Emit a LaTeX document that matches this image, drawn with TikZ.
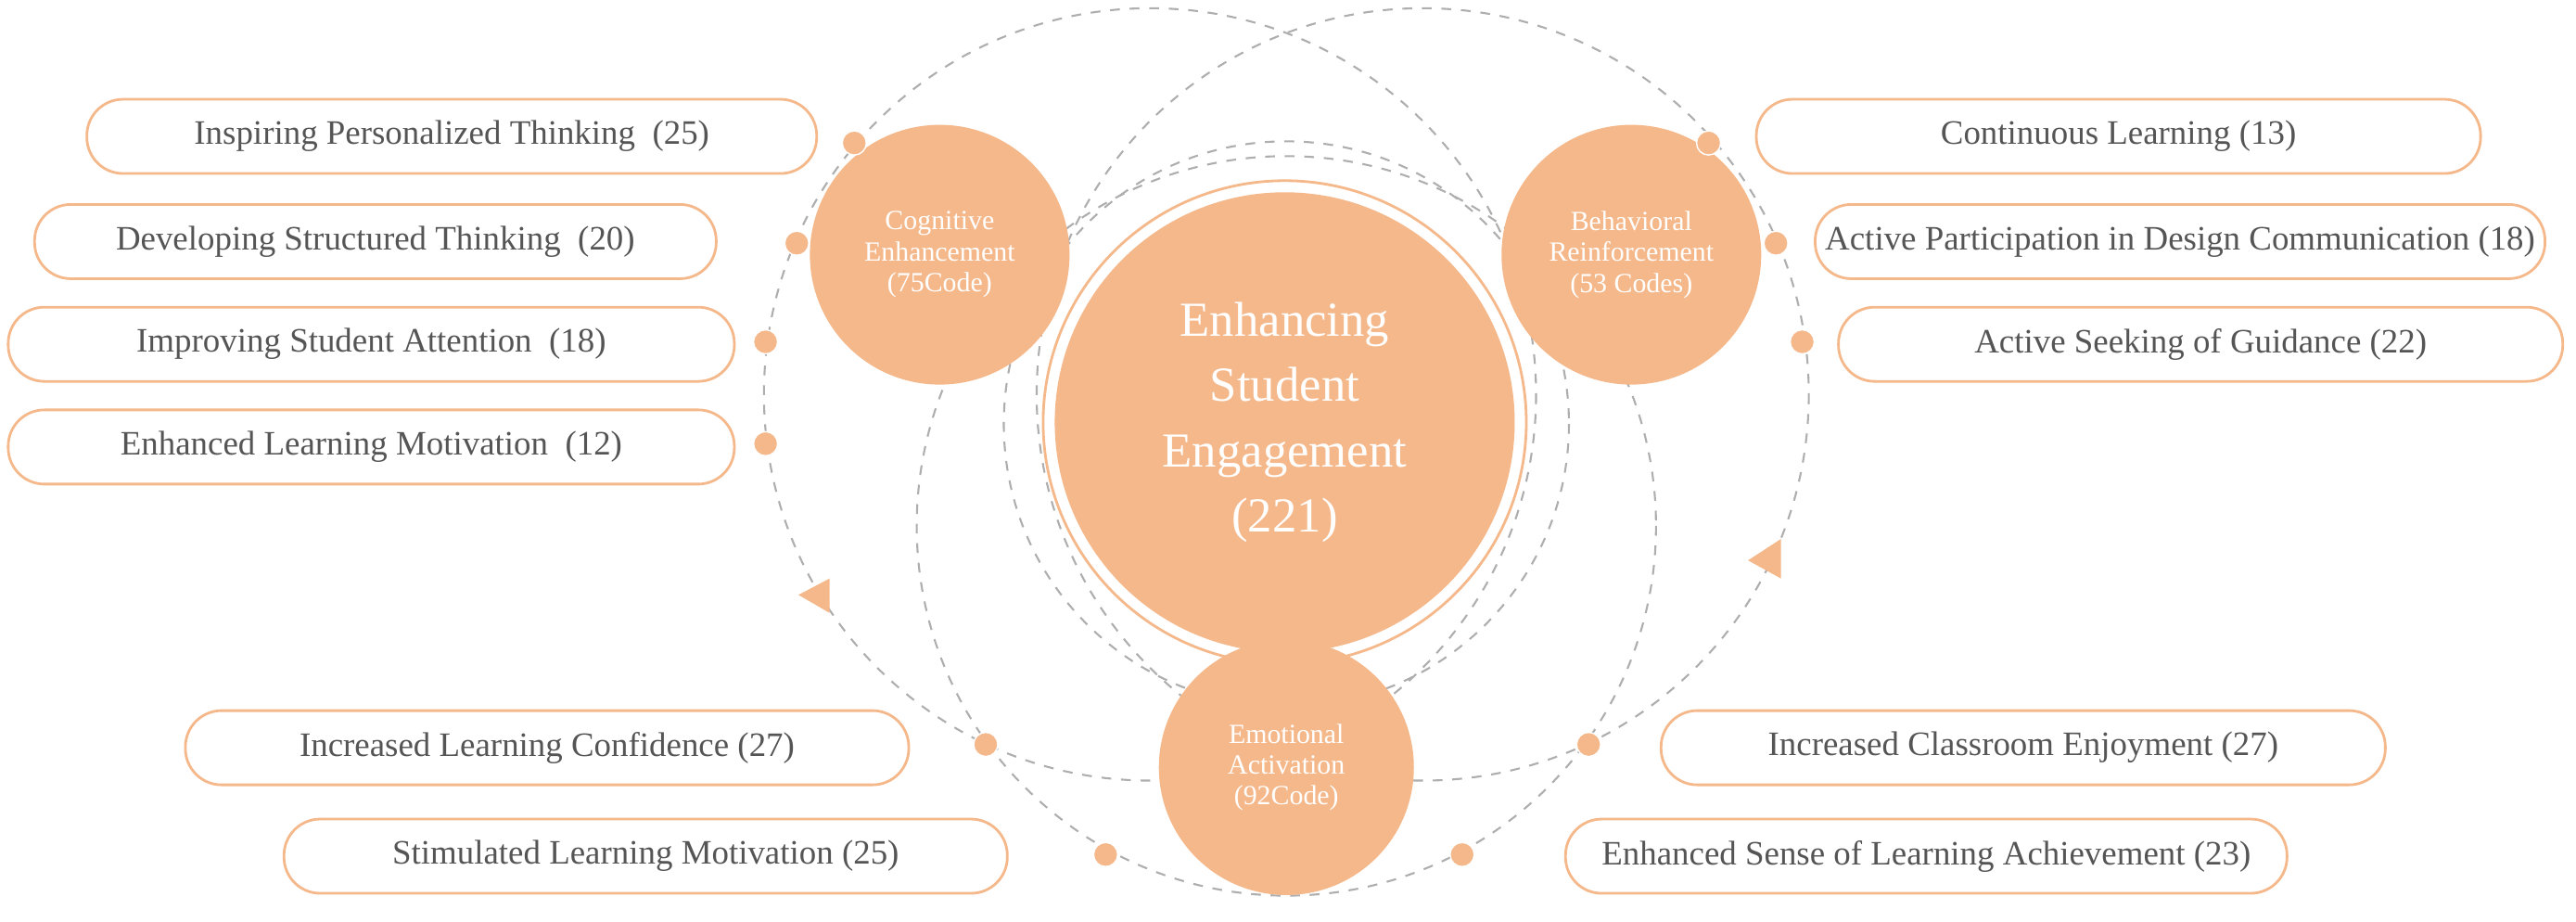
\documentclass[tikz,border=0pt]{standalone}
\usepackage{fontspec}
\setmainfont{Liberation Serif}
\definecolor{peach}{HTML}{F5B88B}
\definecolor{ringgrey}{HTML}{AEAEAE}
\definecolor{txtgrey}{HTML}{555555}
\begin{document}
\begin{tikzpicture}
	[
	x=0.01772cm, y=-0.01772cm,
	align=center,
	item/.style={draw=peach, line width=0.8pt, rounded corners=0.39cm, fill=white, text=txtgrey, font=\fontsize{10.5}{12}\selectfont, minimum height=0.8cm, inner sep=0pt},
	theme/.style={circle, fill=peach, text=white, minimum size=2.8cm, inner sep=0pt, font=\fontsize{8.5}{9.5}\selectfont},
	ring/.style={draw=ringgrey, dashed, line width=0.6pt},
	dot/.style={circle, fill=peach, draw=white, line width=0.4pt, minimum size=0.26cm, inner sep=0pt}
	]
		\useasboundingbox (0,0) rectangle (1568,561);
		
		% dashed rings
		\draw [ring] (700,240) circle [radius=235];
		\draw [ring] (866,240) circle [radius=235];
		\draw [ring] (783,320) circle [radius=225];
		\draw [ring] (783,258) circle [radius=172];
		
		% left items
		\node [item, minimum width=7.87cm] (l1) at (275,83) {Inspiring Personalized Thinking\ \ (25)};
		\node [item, minimum width=7.35cm] (l2) at (228.5,147) {Developing Structured Thinking\ \ (20)};
		\node [item, minimum width=7.83cm] (l3) at (226,209.5) {Improving Student Attention\ \ (18)};
		\node [item, minimum width=7.83cm] (l4) at (226,272) {Enhanced Learning Motivation\ \ (12)};
		\node [item, minimum width=7.80cm] (l5) at (333,455) {Increased Learning Confidence (27)};
		\node [item, minimum width=7.80cm] (l6) at (393,521) {Stimulated Learning Motivation (25)};
		
		% right items
		\node [item, minimum width=7.81cm] (r1) at (1289.5,83) {Continuous Learning (13)};
		\node [item, minimum width=7.87cm] (r2) at (1327,147) {Active Participation in Design Communication (18)};
		\node [item, minimum width=7.81cm] (r3) at (1339.5,209.5) {Active Seeking of Guidance (22)};
		\node [item, minimum width=7.81cm] (r4) at (1231.5,455) {Increased Classroom Enjoyment (27)};
		\node [item, minimum width=7.78cm] (r5) at (1172.5,521) {Enhanced Sense of Learning Achievement (23)};
		
		% centre
		\node [circle, draw=peach, line width=0.8pt, minimum size=5.21cm] (core) at (782,257) {};
		\node [theme, minimum size=4.96cm, font=\fontsize{15}{20}\selectfont] (main) at (782,257) {Enhancing\\Student\\Engagement\\(221)};
		
		% themes
		\node [theme] (cog) at (572,155) {Cognitive\\Enhancement\\(75Code)};
		\node [theme] (beh) at (993,155) {Behavioral\\Reinforcement\\(53 Codes)};
		\node [theme, minimum size=2.75cm] (emo) at (783,467) {Emotional\\Activation\\(92Code)};
		
		% dots on the rings
		\foreach \name/\pos in {d1/{(520,87)},d2/{(485,148)},d3/{(466,208)},d4/{(466,270)},d5/{(600,453)},d6/{(673,520)},
			d7/{(1040,87)},d8/{(1081,148)},d9/{(1097,208)},d10/{(967,453)},d11/{(890,520)}}
			\node [dot] (\name) at \pos {};
		
		% direction marks
		\fill [peach] (486,362) -- (505,352) -- (505,373) -- cycle;
		\fill [peach] (1064,341) -- (1084,328) -- (1084,352) -- cycle;
	\end{tikzpicture}
\end{document}
